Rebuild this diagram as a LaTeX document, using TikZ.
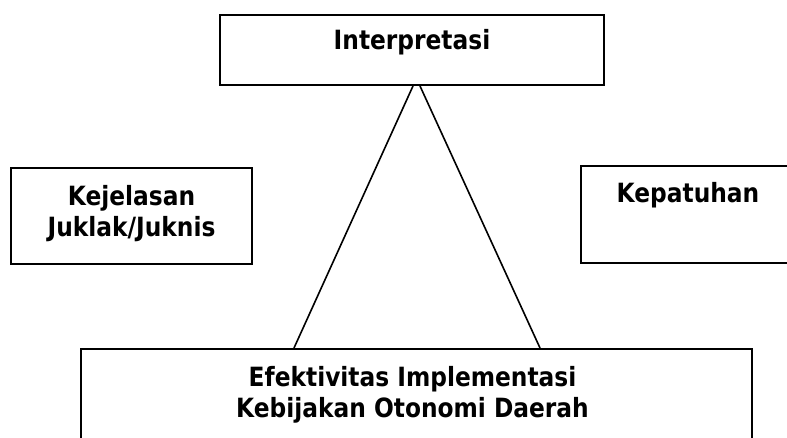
\documentclass[tikz,border=0pt]{standalone}
\usepackage{fontspec}
\setmainfont[FakeStretch=0.88]{DejaVu Sans}
\begin{document}
\begin{tikzpicture}[x=1pt, y=-1pt,
  kotak/.style={draw, line width=2pt, inner sep=0pt},
  judul/.style={anchor=base, align=center, inner sep=0pt,
    font=\fontsize{26.5}{31}\selectfont\bfseries},
  garis/.style={line width=1.6pt}]

\useasboundingbox (0,0) rectangle (787,438);
\clip (0,0) rectangle (787,438);

% kotak-kotak
\node[kotak, minimum width=384pt, minimum height=70pt] (interp) at (412,50) {};
\node[kotak, minimum width=241pt, minimum height=96pt] (jelas) at (131.5,216) {};
\node[kotak, minimum width=214pt, minimum height=97pt] (patuh) at (688,214.5) {};
\node[kotak, minimum width=671pt, minimum height=121pt] (efek) at (416.5,409.5) {};

% teks (base = baris terakhir)
\node[judul] (tinterp) at ([yshift=-36pt]interp.north) {Interpretasi};
\node[judul] (tjelas) at ([yshift=-70pt]jelas.north) {Kejelasan\\Juklak/Juknis};
\node[judul] (tpatuh) at ([yshift=-38pt]patuh.north) {Kepatuhan};
\node[judul] (tefek) at ([xshift=-4pt,yshift=-69pt]efek.north) {Efektivitas Implementasi\\Kebijakan Otonomi Daerah};

% segitiga
\coordinate (kiri) at ([xshift=1pt]interp.south);
\coordinate (kanan) at ([xshift=8pt]interp.south);
\draw[garis] (kiri) -- ([xshift=-122.5pt]efek.north);
\draw[garis] (kanan) -- ([xshift=123.5pt]efek.north);

\end{tikzpicture}
\end{document}
